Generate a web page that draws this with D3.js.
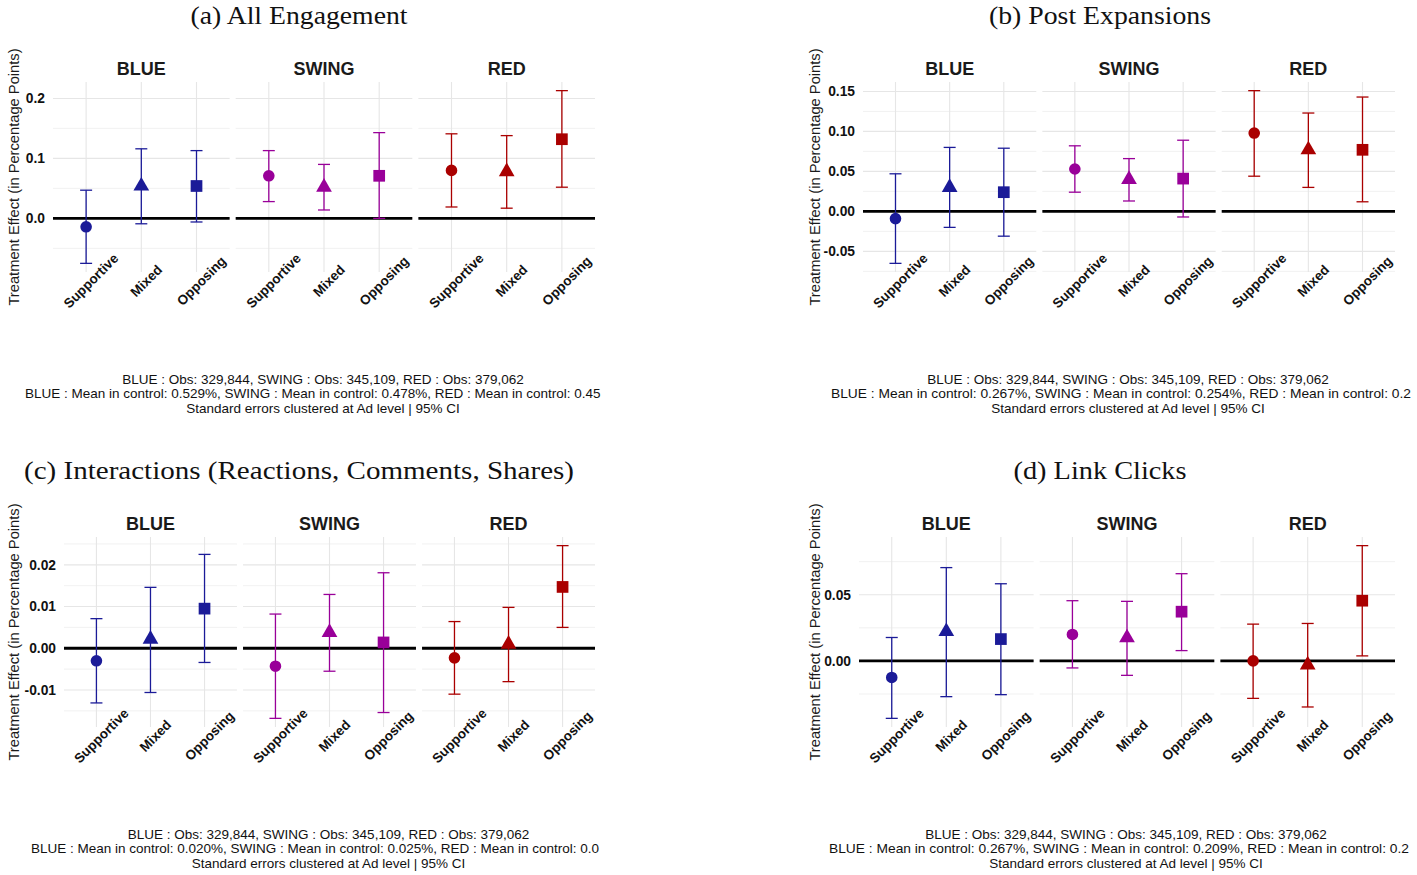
<!DOCTYPE html>
<html>
<head>
<meta charset="utf-8">
<script src="https://cdn.jsdelivr.net/npm/d3@7"></script>
<style>
  html, body { margin: 0; padding: 0; background: #ffffff; }
  svg { display: block; }
</style>
</head>
<body>
<script>
// ---- data -------------------------------------------------------------
const facets = ["BLUE", "SWING", "RED"];
const categories = ["Supportive", "Mixed", "Opposing"];

// estimates and 95% CI bounds, ordered BLUE (Supp, Mixed, Opp), SWING (...), RED (...)
const allEngEst = [-0.014, 0.054, 0.054, 0.071, 0.052, 0.071, 0.080, 0.078, 0.132];
const allEngLo  = [-0.075, -0.009, -0.006, 0.028, 0.014, 0.000, 0.019, 0.017, 0.052];
const allEngHi  = [0.047, 0.116, 0.113, 0.113, 0.090, 0.143, 0.141, 0.138, 0.213];

const expandEst = [-0.009, 0.030, 0.024, 0.053, 0.040, 0.041, 0.098, 0.077, 0.077];
const expandLo  = [-0.065, -0.020, -0.031, 0.024, 0.013, -0.007, 0.044, 0.030, 0.012];
const expandHi  = [0.047, 0.080, 0.079, 0.082, 0.066, 0.089, 0.151, 0.123, 0.143];

const interactEst = [-0.0030, 0.0022, 0.0095, -0.0043, 0.0038, 0.0014, -0.0023, 0.0010, 0.0147];
const interactLo  = [-0.0131, -0.0106, -0.0034, -0.0168, -0.0055, -0.0154, -0.0110, -0.0080, 0.0050];
const interactHi  = [0.0071, 0.0146, 0.0225, 0.0082, 0.0129, 0.0181, 0.0064, 0.0098, 0.0246];

const clickEst = [-0.0125, 0.0222, 0.0165, 0.0200, 0.0175, 0.0372, 0.0000, -0.0030, 0.0455];
const clickLo  = [-0.0434, -0.0270, -0.0255, -0.0053, -0.0109, 0.0078, -0.0283, -0.0348, 0.0038];
const clickHi  = [0.0177, 0.0705, 0.0583, 0.0455, 0.0450, 0.0659, 0.0278, 0.0283, 0.0871];

// y-axis breaks
const allEngTicks = [0, 0.1, 0.2];
const allEngTickLabels = ["0.0", "0.1", "0.2"];
const allEngMinor = [-0.05, 0.05, 0.15];

const expandTicks = [-0.05, 0, 0.05, 0.10, 0.15];
const expandTickLabels = ["-0.05", "0.00", "0.05", "0.10", "0.15"];
const expandMinor = [-0.075, -0.025, 0.025, 0.075, 0.125];

const interactTicks = [-0.01, 0, 0.01, 0.02];
const interactTickLabels = ["-0.01", "0.00", "0.01", "0.02"];
const interactMinor = [-0.015, -0.005, 0.005, 0.015, 0.025];

const clickTicks = [0, 0.05];
const clickTickLabels = ["0.00", "0.05"];
const clickMinor = [-0.025, 0.025, 0.075];

// captions
const obsLine = "BLUE : Obs: 329,844, SWING : Obs: 345,109, RED : Obs: 379,062";
const seLine = "Standard errors clustered at Ad level | 95% CI";
const meanAllEng = "BLUE : Mean in control: 0.529%, SWING : Mean in control: 0.478%, RED : Mean in control: 0.45";
const meanExpand = "BLUE : Mean in control: 0.267%, SWING : Mean in control: 0.254%, RED : Mean in control: 0.2";
const meanInteract = "BLUE : Mean in control: 0.020%, SWING : Mean in control: 0.025%, RED : Mean in control: 0.0";
const meanClick = "BLUE : Mean in control: 0.267%, SWING : Mean in control: 0.209%, RED : Mean in control: 0.2";

const yTitle = "Treatment Effect (in Percentage Points)";

// ---- styling / layout ---------------------------------------------------
const colors = { BLUE: "#1b1b98", SWING: "#990099", RED: "#aa0000" };
const shapes = [d3.symbolCircle, d3.symbolTriangle, d3.symbolSquare];
const shapeSizes = [106, 107, 137];
const SANS = "'Liberation Sans', Arial, Helvetica, sans-serif";
const SERIF = "'Liberation Serif', 'Times New Roman', serif";

const W = 1417, H = 875;
const svg = d3.select("body").append("svg").attr("width", W).attr("height", H);
svg.append("rect").attr("width", W).attr("height", H).attr("fill", "#ffffff");

const plots = [
  { id: "a", title: "(a) All Engagement", titleW: 217, est: allEngEst, lo: allEngLo, hi: allEngHi,
    ticks: allEngTicks, tickLabels: allEngTickLabels, minor: allEngMinor, mean: meanAllEng,
    cellX: 0, clipW: 601, top: 0, left: 53, right: 595, meanX: 25, meanW: null },
  { id: "b", title: "(b) Post Expansions", titleW: 222, est: expandEst, lo: expandLo, hi: expandHi,
    ticks: expandTicks, tickLabels: expandTickLabels, minor: expandMinor, mean: meanExpand,
    cellX: 801, clipW: 616, top: 0, left: 863, right: 1395, meanX: 831, meanW: 580 },
  { id: "c", title: "(c) Interactions (Reactions, Comments, Shares)", titleW: 550, est: interactEst, lo: interactLo, hi: interactHi,
    ticks: interactTicks, tickLabels: interactTickLabels, minor: interactMinor, mean: meanInteract,
    cellX: 0, clipW: 601, top: 455, left: 64, right: 595, meanX: 31, meanW: null },
  { id: "d", title: "(d) Link Clicks", titleW: 173, est: clickEst, lo: clickLo, hi: clickHi,
    ticks: clickTicks, tickLabels: clickTickLabels, minor: clickMinor, mean: meanClick,
    cellX: 801, clipW: 616, top: 455, left: 859, right: 1395, meanX: 829, meanW: 580 }
];

plots.forEach(p => {
  const clipId = "clip-" + p.id;
  svg.append("clipPath").attr("id", clipId)
    .append("rect").attr("x", p.cellX).attr("y", p.top).attr("width", p.clipW).attr("height", 455);
  const g = svg.append("g").attr("clip-path", `url(#${clipId})`);

  const panelTop = p.top + 82, panelBottom = p.top + 272;

  // y scale: data range expanded by 5% on each side
  const ymin = d3.min(p.lo), ymax = d3.max(p.hi);
  const pad = (ymax - ymin) * 0.05;
  const y = d3.scaleLinear().domain([ymin - pad, ymax + pad]).range([panelBottom, panelTop]);

  const fx = d3.scaleBand().domain(facets).range([p.left, p.right]).paddingInner(6 / ((p.right - p.left) / 3));
  const x = d3.scalePoint().domain(categories).range([0, fx.bandwidth()]).padding(0.6);

  // title
  g.append("text")
    .attr("x", p.cellX + 299).attr("y", p.top + 24)
    .attr("text-anchor", "middle")
    .attr("font-family", SERIF).attr("font-size", 25).attr("fill", "#111")
    .attr("textLength", p.titleW).attr("lengthAdjust", "spacingAndGlyphs")
    .text(p.title);

  // y axis title
  g.append("text")
    .attr("transform", `translate(${p.cellX + 19},${(panelTop + panelBottom) / 2}) rotate(-90)`)
    .attr("text-anchor", "middle")
    .attr("font-family", SANS).attr("font-size", 14.7).attr("fill", "#1a1a1a")
    .text(yTitle);

  // y tick labels (axis without domain line / tick marks)
  const yAxis = d3.axisLeft(y).tickValues(p.ticks).tickFormat((d, i) => p.tickLabels[i]).tickSize(0).tickPadding(8);
  const ya = g.append("g").attr("transform", `translate(${p.left},0)`).call(yAxis);
  ya.select(".domain").remove();
  ya.selectAll("text").attr("font-family", SANS).attr("font-size", 13.8).attr("font-weight", "bold").attr("fill", "#111");

  facets.forEach((f, fi) => {
    const x0 = fx(f), fw = fx.bandwidth();
    const fg = g.append("g");

    // grid
    fg.selectAll(".minor").data(p.minor.filter(v => v >= y.domain()[0] && v <= y.domain()[1])).join("line")
      .attr("x1", x0).attr("x2", x0 + fw).attr("y1", d => y(d)).attr("y2", d => y(d))
      .attr("stroke", "#ededed").attr("stroke-width", 0.8);
    fg.selectAll(".major").data(p.ticks).join("line")
      .attr("x1", x0).attr("x2", x0 + fw).attr("y1", d => y(d)).attr("y2", d => y(d))
      .attr("stroke", "#e6e6e6").attr("stroke-width", 1.1);
    fg.selectAll(".vgrid").data(categories).join("line")
      .attr("x1", d => x0 + x(d)).attr("x2", d => x0 + x(d))
      .attr("y1", panelTop).attr("y2", panelBottom)
      .attr("stroke", "#e6e6e6").attr("stroke-width", 1.1);

    // zero reference line
    fg.append("line").attr("x1", x0).attr("x2", x0 + fw).attr("y1", y(0)).attr("y2", y(0))
      .attr("stroke", "#000").attr("stroke-width", 2.8);

    // facet strip label
    fg.append("text").attr("x", x0 + fw / 2).attr("y", p.top + 74.5)
      .attr("text-anchor", "middle").attr("font-family", SANS).attr("font-size", 18)
      .attr("font-weight", "bold").attr("fill", "#1a1a1a").text(f);

    // x labels
    fg.selectAll(".xl").data(categories).join("text")
      .attr("transform", d => `translate(${x0 + x(d) + 5},${panelBottom + 9}) rotate(-45)`)
      .attr("text-anchor", "middle").attr("dominant-baseline", "central")
      .attr("font-family", SANS).attr("font-size", 13.5).attr("font-weight", "bold").attr("fill", "#111")
      .text(d => d);

    // error bars + points
    const rows = categories.map((c, ci) => ({
      c, ci, est: p.est[fi * 3 + ci], lo: p.lo[fi * 3 + ci], hi: p.hi[fi * 3 + ci]
    }));
    const col = colors[f];
    const eb = fg.selectAll(".eb").data(rows).join("g");
    eb.append("line").attr("x1", d => x0 + x(d.c)).attr("x2", d => x0 + x(d.c))
      .attr("y1", d => y(d.lo)).attr("y2", d => y(d.hi)).attr("stroke", col).attr("stroke-width", 1.3);
    eb.append("line").attr("x1", d => x0 + x(d.c) - 6).attr("x2", d => x0 + x(d.c) + 6)
      .attr("y1", d => y(d.lo)).attr("y2", d => y(d.lo)).attr("stroke", col).attr("stroke-width", 1.3);
    eb.append("line").attr("x1", d => x0 + x(d.c) - 6).attr("x2", d => x0 + x(d.c) + 6)
      .attr("y1", d => y(d.hi)).attr("y2", d => y(d.hi)).attr("stroke", col).attr("stroke-width", 1.3);
    fg.selectAll(".pt").data(rows).join("path")
      .attr("transform", d => `translate(${x0 + x(d.c)},${y(d.est)})`)
      .attr("d", d => d3.symbol().type(shapes[d.ci]).size(shapeSizes[d.ci])())
      .attr("fill", col);
  });

  // caption
  const cx = (p.left + p.right) / 2 - 1;
  const cap = g.append("g").attr("font-family", SANS).attr("font-size", 13.5).attr("fill", "#111");
  cap.append("text").attr("x", cx).attr("y", p.top + 383.5).attr("text-anchor", "middle").text(obsLine);
  const meanText = cap.append("text").attr("x", p.meanX).attr("y", p.top + 398).attr("text-anchor", "start").text(p.mean);
  if (p.meanW) meanText.attr("textLength", p.meanW).attr("lengthAdjust", "spacingAndGlyphs");
  cap.append("text").attr("x", cx).attr("y", p.top + 412.5).attr("text-anchor", "middle").text(seLine);
});
</script>
</body>
</html>
